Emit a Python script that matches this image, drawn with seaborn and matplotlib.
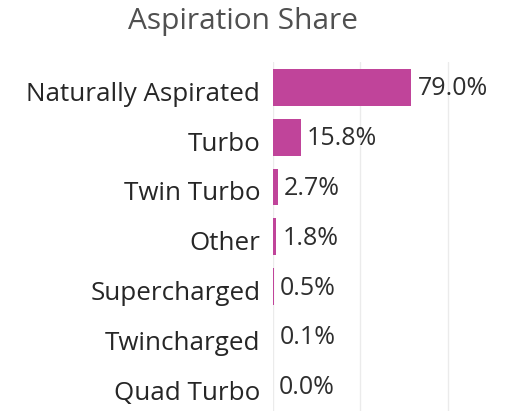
import matplotlib
matplotlib.use("Agg")
import matplotlib.pyplot as plt
from matplotlib.transforms import ScaledTranslation
import seaborn as sns
import pandas as pd

categories = ["Naturally Aspirated", "Turbo", "Twin Turbo", "Other",
              "Supercharged", "Twincharged", "Quad Turbo"]
shares = [0.790, 0.158, 0.027, 0.018, 0.005, 0.001, 0.000]
value_labels = ["79.0%", "15.8%", "2.7%", "1.8%", "0.5%", "0.1%", "0.0%"]
title = "Aspiration Share"

df = pd.DataFrame({"Aspiration": categories, "Share": shares})

sns.set_style("white")
plt.rcParams["font.family"] = ["Open Sans", "DejaVu Sans"]

fig = plt.figure(figsize=(5.10, 4.11), dpi=100)
ax = fig.add_axes([0.535, 0.0, 0.465, 0.848])

sns.barplot(data=df, x="Share", y="Aspiration", ax=ax, color="#C0449A",
            saturation=1, width=0.74, linewidth=0)

ax.set_xlim(0, 1.354)
ax.set_ylim(6.5, -0.5)
ax.set_xticks([0, 0.5, 1.0])
ax.grid(axis="x", color="#EBEBEB", linewidth=1)
ax.set_axisbelow(True)
for s in ax.spines.values():
    s.set_visible(False)
ax.tick_params(axis="x", length=0, labelbottom=False)
ax.tick_params(axis="y", length=0, pad=9, labelsize=18.7, labelcolor="#262626")
ax.set_xlabel("")
ax.set_ylabel("")
shift = ScaledTranslation(0, -4 / 100, fig.dpi_scale_trans)
for lab in ax.get_yticklabels():
    lab.set_transform(lab.get_transform() + shift)

vshift = ScaledTranslation(0, -1.5 / 100, fig.dpi_scale_trans)
for i, (v, lab) in enumerate(zip(shares, value_labels)):
    ax.text(v + 0.036, i, lab, va="center", ha="left", fontsize=18,
            color="#2E2E2E", transform=ax.transData + vshift)

fig.text(0.476, 1 - 28.5 / 411, title, ha="center", va="baseline",
         fontsize=21.5, color="#505050")

fig.savefig("out.png", dpi=100)
